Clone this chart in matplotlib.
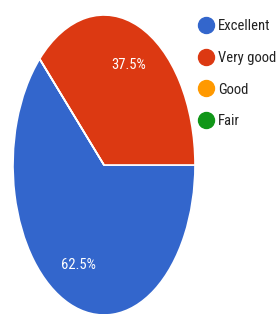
import matplotlib
matplotlib.use("Agg")
import matplotlib.pyplot as plt
from matplotlib.lines import Line2D

plt.rcParams['font.family'] = ['Roboto Condensed', 'DejaVu Sans']

# survey answers
labels = ["Excellent", "Very good", "Good", "Fair"]
values = [62.5, 37.5, 0, 0]
colors = ["#3366cc", "#dc3912", "#ff9900", "#109618"]

fig = plt.figure(figsize=(2.77, 3.14), dpi=100)
# pie is stretched vertically in the original, so no equal aspect
ax = fig.add_axes([13 / 277, -1 / 314, 182 / 277, 300 / 314])

def pct_label(p):
    return "" if p == 0 else "%.1f%%" % p

ax.pie(values, colors=colors, startangle=135, autopct=pct_label,
       pctdistance=0.72, radius=1,
       wedgeprops=dict(edgecolor="white", linewidth=1.2),
       textprops=dict(color="white", fontsize=10.5))
ax.set_aspect("auto")
ax.set_xlim(-1, 1)
ax.set_ylim(-1, 1)

handles = [Line2D([], [], marker="o", linestyle="", markersize=11.5,
                  markerfacecolor=c, markeredgecolor=c) for c in colors]
fig.legend(handles, labels, loc="upper left", bbox_to_anchor=(200 / 277, 1 - 19 / 314),
           frameon=False, fontsize=10.5, handlelength=0.8, handletextpad=0.45,
           labelspacing=1.22, borderaxespad=0, borderpad=0, labelcolor="#222222")

fig.savefig("out.png", dpi=100, facecolor="white")
